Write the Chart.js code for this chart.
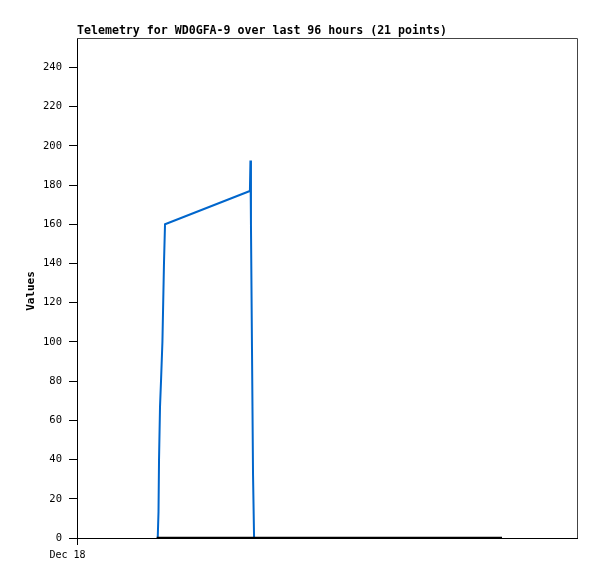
<!DOCTYPE html>
<html>
<head>
<meta charset="utf-8">
<script src="https://cdn.jsdelivr.net/npm/chart.js@4.4.1/dist/chart.umd.min.js"></script>
<style>
    html, body { margin: 0; padding: 0; background: #fff; }
    #wrap { width: 597px; height: 579px; }
</style>
</head>
<body>
<div id="wrap"><canvas id="telemetryChart" width="597" height="579"></canvas></div>
<script>
// hours since Dec 18 00:00 (96 hour window)
const valueHours = [15.5, 15.65, 15.75, 15.94, 16.13, 16.4, 16.7, 16.9, 33.2, 33.3, 33.4, 33.6, 33.8, 34.0];
const valueSeries = [0, 13.4, 40, 67, 80, 100, 140, 160, 177, 192.5, 160, 96, 32, 0];
const zeroHours = [15.3, 26.5, 37.5, 48.5, 59.5, 70.5, 81.6];
const zeroSeries = [0, 0, 0, 0, 0, 0, 0];
const xTickLabels = ["Dec 18"];
const titleText = "Telemetry for WD0GFA-9 over last 96 hours (21 points)";
const yTitle = "Values";

const MONO = "'DejaVu Sans Mono', 'Liberation Mono', monospace";

const framePlugin = {
    id: "frame",
    afterDraw(chart) {
        const { ctx, chartArea: a } = chart;
        ctx.save();
        // gray top + right frame
        ctx.strokeStyle = "#444";
        ctx.lineWidth = 1;
        ctx.beginPath();
        ctx.moveTo(a.left, a.top + 0.5);
        ctx.lineTo(a.right + 0.5, a.top + 0.5);
        ctx.lineTo(a.right + 0.5, a.bottom);
        ctx.stroke();

        ctx.fillStyle = "#000";
        ctx.font = "bold 11.6px " + MONO;
        ctx.textAlign = "left";
        ctx.textBaseline = "alphabetic";
        ctx.fillText(titleText, a.left, a.top - 4);

        ctx.translate(31, 291);
        ctx.rotate(-Math.PI / 2);
        ctx.textAlign = "center";
        ctx.textBaseline = "middle";
        ctx.font = "bold 11px " + MONO;
        ctx.fillText(yTitle, 0, 0);
        ctx.restore();
    }
};

new Chart(document.getElementById("telemetryChart"), {
    type: "line",
    data: {
        datasets: [
            {
                label: "zero",
                data: zeroHours.map((h, i) => ({ x: h, y: zeroSeries[i] })),
                borderColor: "#000",
                borderWidth: 2.5,
                pointRadius: 0,
                tension: 0
            },
            {
                label: "values",
                data: valueHours.map((h, i) => ({ x: h, y: valueSeries[i] })),
                borderColor: "#0066cc",
                borderWidth: 2,
                pointRadius: 0,
                tension: 0
            }
        ]
    },
    options: {
        responsive: false,
        animation: false,
        layout: { padding: { left: 0, top: 38, right: 20, bottom: 0 } },
        plugins: {
            legend: { display: false },
            tooltip: { enabled: false }
        },
        scales: {
            x: {
                type: "linear",
                min: 0,
                max: 96,
                afterBuildTicks: (scale) => { scale.ticks = [{ value: 0 }]; },
                afterFit: (scale) => { scale.height = 41; },
                grid: { drawOnChartArea: false, tickLength: 7, color: "#000" },
                border: { color: "#000", width: 1 },
                ticks: {
                    color: "#000",
                    font: { family: MONO, size: 10 },
                    padding: 4,
                    labelOffset: -9.5,
                    maxRotation: 0,
                    callback: (v, i) => xTickLabels[i] ?? ""
                }
            },
            y: {
                min: 0,
                max: 255,
                afterBuildTicks: (scale) => {
                    scale.ticks = scale.ticks.filter(t => t.value % 20 === 0);
                },
                afterFit: (scale) => { scale.width = 77; },
                grid: { drawOnChartArea: false, tickLength: 8, color: "#000" },
                border: { color: "#000", width: 1 },
                ticks: {
                    stepSize: 20,
                    color: "#000",
                    font: { family: MONO, size: 10.5 },
                    padding: 7
                }
            }
        }
    },
    plugins: [framePlugin]
});
</script>
</body>
</html>
